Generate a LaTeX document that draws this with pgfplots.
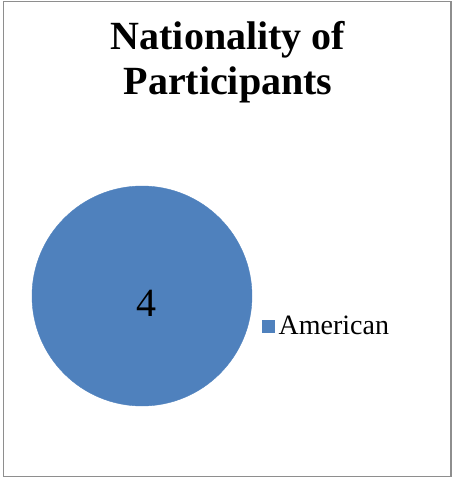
\documentclass[border=0pt]{standalone}
\usepackage{pgfplots}
\pgfplotsset{compat=1.18}
\usepackage{fontspec}
\setmainfont{Liberation Serif}
\definecolor{pieblue}{HTML}{4F81BD}
\definecolor{framegray}{HTML}{8E8E8E}
\begin{document}
\begin{tikzpicture}
\begin{axis}[
  x=1pt, y=1pt, y dir=reverse,
  xmin=0, xmax=452, ymin=0, ymax=478,
  hide axis, clip=false,
  title={Nationality of\\Participants},
  title style={at={(axis cs:228,68)}, anchor=center, align=center,
    font=\fontsize{40}{45}\selectfont\bfseries, inner sep=0pt},
  legend style={at={(axis cs:262,326)}, anchor=west, draw=none, fill=none,
    font=\fontsize{28}{32}\selectfont, inner sep=0pt,
    nodes={inner xsep=4pt, inner ysep=2pt}},
  legend image code/.code={\fill[pieblue] (0pt,-6pt) rectangle (12pt,6pt);},
]
\path (axis cs:0,0) rectangle (axis cs:452,478);
\draw[framegray, line width=1.5pt] (axis cs:3.5,1.5) rectangle (axis cs:451,476.5);
\addplot[only marks, mark=*, mark size=110pt, pieblue,
  mark options={draw=pieblue, fill=pieblue},
  nodes near coords, point meta=explicit symbolic,
  every node near coord/.append style={anchor=center, xshift=4pt, yshift=-7pt,
    font=\fontsize{40}{44}\selectfont, text=black}]
  coordinates {(142,296) [4]};
\addlegendentry{American}
\addplot[white, line width=0.4pt, opacity=0.6, forget plot] coordinates {(142,296) (142,186)};
\end{axis}
\end{tikzpicture}
\end{document}
